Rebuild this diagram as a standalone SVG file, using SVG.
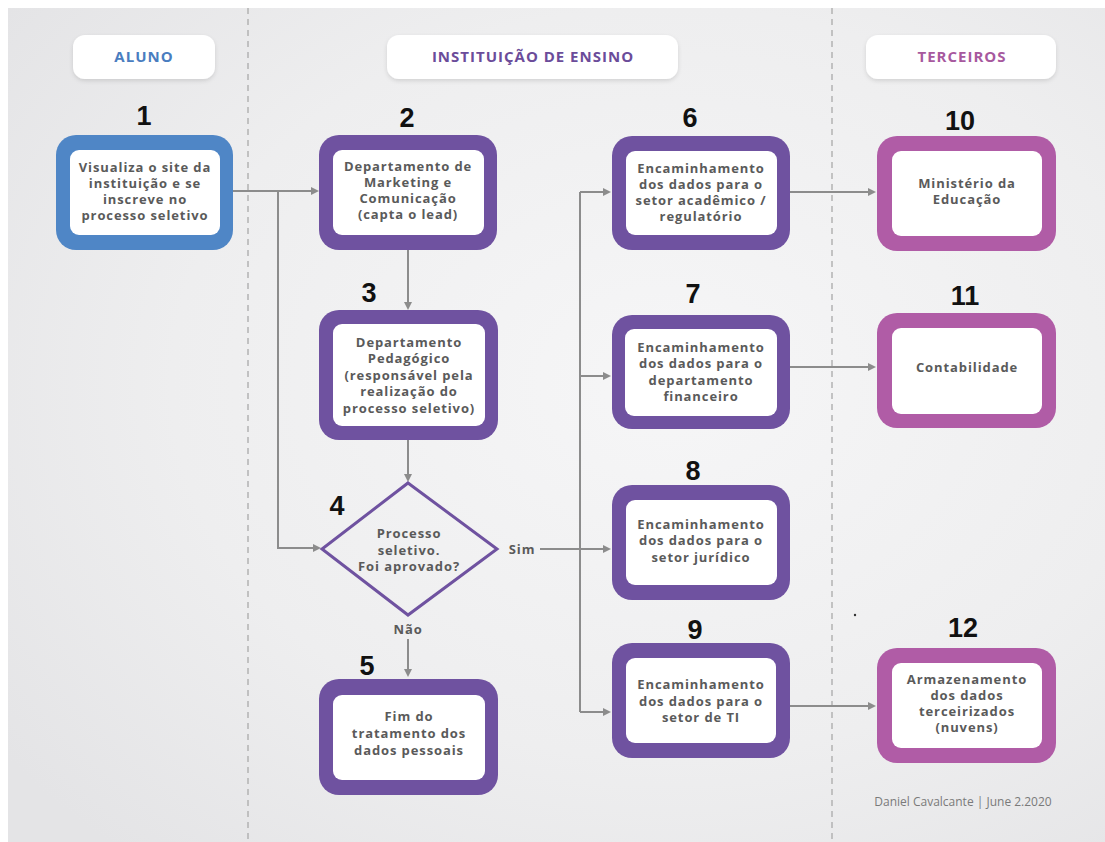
<svg xmlns="http://www.w3.org/2000/svg" width="1105" height="842" viewBox="0 0 1105 842">
<defs>
  <radialGradient id="bg" cx="0.6" cy="0.45" r="0.75">
    <stop offset="0" stop-color="#f6f6f7"/>
    <stop offset="0.6" stop-color="#eeeeef"/>
    <stop offset="1" stop-color="#e4e4e6"/>
  </radialGradient>
  <filter id="sh" x="-10%" y="-20%" width="120%" height="150%">
    <feDropShadow dx="0" dy="2" stdDeviation="2" flood-color="#000" flood-opacity="0.12"/>
  </filter>
  <marker id="ah" viewBox="0 0 8 8" markerWidth="8" markerHeight="8" refX="2" refY="4" orient="auto" markerUnits="userSpaceOnUse">
    <path d="M0,0 L8,4 L0,8 z" fill="#8c8c8c"/>
  </marker>
  <style>
    .pill{fill:#ffffff;filter:url(#sh)}
    .hd{font-family:"Open Sans","Noto Sans",sans-serif;font-weight:700;font-size:15px;letter-spacing:1px;text-anchor:middle}
    .num{font-family:"Liberation Sans",Arial,sans-serif;font-weight:700;font-size:27px;fill:#111;text-anchor:middle}
    .t{font-family:"Open Sans","Noto Sans",sans-serif;font-weight:700;font-size:13px;letter-spacing:0.9px;fill:#5a5a5a;text-anchor:middle}
    .inner{fill:#ffffff}
    .blue{fill:#4f86c6}
    .purple{fill:#6f52a0}
    .pink{fill:#b05ca6}
    .dash{stroke:#b3b3b3;stroke-width:1.5;stroke-dasharray:6 5;fill:none}
    .c{stroke:#8c8c8c;stroke-width:2;fill:none}
    .ca{stroke:#8c8c8c;stroke-width:2;fill:none;marker-end:url(#ah)}
    .foot{font-family:"Open Sans","Noto Sans",sans-serif;font-weight:400;font-size:12px;fill:#7a7a7a;text-anchor:middle}
  </style>
</defs>
<rect x="0" y="0" width="1105" height="842" fill="#ffffff"/>
<rect x="8" y="8" width="1097" height="834" fill="url(#bg)"/>
<line class="dash" x1="248" y1="8" x2="248" y2="842"/>
<line class="dash" x1="832" y1="8" x2="832" y2="842"/>

<g id="headers">
  <g id="h-aluno"><rect class="pill" x="73" y="35" width="142" height="44" rx="12"/><text class="hd" x="144" y="62" fill="#4a7dc0">ALUNO</text></g>
  <g id="h-inst"><rect class="pill" x="387" y="35" width="291" height="44" rx="12"/><text class="hd" x="533" y="62" fill="#6b4c9a">INSTITUIÇÃO DE ENSINO</text></g>
  <g id="h-terc"><rect class="pill" x="866" y="35" width="190" height="44" rx="12"/><text class="hd" x="962" y="62" fill="#a7599e">TERCEIROS</text></g>
</g>

<g id="connectors">
  <path class="ca" d="M233,191 H313"/>
  <path class="ca" d="M278,191 V548 H315"/>
  <path class="ca" d="M408,250 V304"/>
  <path class="ca" d="M408,440 V476"/>
  <path class="ca" d="M408,639 V671"/>
  <path class="ca" d="M540,549 H605"/>
  <path class="c" d="M580,192 V712"/>
  <path class="ca" d="M580,192 H605"/>
  <path class="ca" d="M580,376 H605"/>
  <path class="ca" d="M580,712 H605"/>
  <path class="ca" d="M790,192 H870"/>
  <path class="ca" d="M790,367 H870"/>
  <path class="ca" d="M790,706 H870"/>
  <text class="t" x="522" y="554">Sim</text>
  <text class="t" x="408" y="634">Não</text>
</g>

<g id="n1">
  <text class="num" x="144" y="125">1</text>
  <rect class="blue" x="56" y="135" width="177" height="115" rx="20"/>
  <rect class="inner" x="70" y="150" width="150" height="85" rx="9"/>
  <text class="t" x="145" y="172">Visualiza o site da</text>
  <text class="t" x="145" y="188">instituição e se</text>
  <text class="t" x="145" y="204">inscreve no</text>
  <text class="t" x="145" y="220">processo seletivo</text>
</g>

<g id="n2">
  <text class="num" x="407" y="127">2</text>
  <rect class="purple" x="319" y="135" width="178" height="115" rx="20"/>
  <rect class="inner" x="333" y="150" width="151" height="85" rx="9"/>
  <text class="t" x="408" y="171">Departamento de</text>
  <text class="t" x="408" y="187">Marketing e</text>
  <text class="t" x="408" y="203">Comunicação</text>
  <text class="t" x="408" y="219">(capta o lead)</text>
</g>

<g id="n3">
  <text class="num" x="369" y="302">3</text>
  <rect class="purple" x="319" y="310" width="179" height="130" rx="20"/>
  <rect class="inner" x="333" y="324" width="152" height="102" rx="9"/>
  <text class="t" x="409" y="347">Departamento</text>
  <text class="t" x="409" y="363">Pedagógico</text>
  <text class="t" x="409" y="380">(responsável pela</text>
  <text class="t" x="409" y="396">realização do</text>
  <text class="t" x="409" y="413">processo seletivo)</text>
</g>

<g id="n4">
  <text class="num" x="337" y="515">4</text>
  <polygon points="408,483 497,549 408,615 322,549" fill="none" stroke="#6f52a0" stroke-width="3" stroke-linejoin="miter"/>
  <text class="t" x="409" y="538">Processo</text>
  <text class="t" x="409" y="555">seletivo.</text>
  <text class="t" x="409" y="571">Foi aprovado?</text>
</g>

<g id="n5">
  <text class="num" x="367" y="675">5</text>
  <rect class="purple" x="319" y="679" width="179" height="116" rx="20"/>
  <rect class="inner" x="333" y="695" width="152" height="85" rx="9"/>
  <text class="t" x="409" y="721">Fim do</text>
  <text class="t" x="409" y="738">tratamento dos</text>
  <text class="t" x="409" y="755">dados pessoais</text>
</g>

<g id="n6">
  <text class="num" x="690" y="127">6</text>
  <rect class="purple" x="612" y="136" width="178" height="114" rx="20"/>
  <rect class="inner" x="626" y="151" width="151" height="84" rx="9"/>
  <text class="t" x="701" y="173">Encaminhamento</text>
  <text class="t" x="701" y="189">dos dados para o</text>
  <text class="t" x="701" y="205">setor acadêmico /</text>
  <text class="t" x="701" y="221">regulatório</text>
</g>

<g id="n7">
  <text class="num" x="693" y="303">7</text>
  <rect class="purple" x="612" y="315" width="178" height="114" rx="20"/>
  <rect class="inner" x="625" y="329" width="152" height="87" rx="9"/>
  <text class="t" x="701" y="352">Encaminhamento</text>
  <text class="t" x="701" y="368">dos dados para o</text>
  <text class="t" x="701" y="385">departamento</text>
  <text class="t" x="701" y="401">financeiro</text>
</g>

<g id="n8">
  <text class="num" x="693" y="480">8</text>
  <rect class="purple" x="612" y="485" width="178" height="115" rx="20"/>
  <rect class="inner" x="626" y="500" width="151" height="85" rx="9"/>
  <text class="t" x="701" y="529">Encaminhamento</text>
  <text class="t" x="701" y="545">dos dados para o</text>
  <text class="t" x="701" y="562">setor jurídico</text>
</g>

<g id="n9">
  <text class="num" x="695" y="639">9</text>
  <rect class="purple" x="612" y="643" width="178" height="115" rx="20"/>
  <rect class="inner" x="626" y="658" width="150" height="85" rx="9"/>
  <text class="t" x="701" y="689">Encaminhamento</text>
  <text class="t" x="701" y="706">dos dados para o</text>
  <text class="t" x="701" y="722">setor de TI</text>
</g>

<g id="n10">
  <text class="num" x="960" y="130">10</text>
  <rect class="pink" x="877" y="136" width="179" height="115" rx="20"/>
  <rect class="inner" x="892" y="151" width="150" height="85" rx="9"/>
  <text class="t" x="967" y="188">Ministério da</text>
  <text class="t" x="967" y="204">Educação</text>
</g>

<g id="n11">
  <text class="num" x="965" y="305">11</text>
  <rect class="pink" x="877" y="313" width="179" height="115" rx="20"/>
  <rect class="inner" x="892" y="328" width="150" height="86" rx="9"/>
  <text class="t" x="967" y="372">Contabilidade</text>
</g>

<g id="n12">
  <text class="num" x="963" y="637">12</text>
  <rect class="pink" x="877" y="648" width="179" height="115" rx="20"/>
  <rect class="inner" x="892" y="663" width="150" height="85" rx="9"/>
  <text class="t" x="967" y="684">Armazenamento</text>
  <text class="t" x="967" y="700">dos dados</text>
  <text class="t" x="967" y="716">terceirizados</text>
  <text class="t" x="967" y="732">(nuvens)</text>
</g>

<circle cx="855" cy="615" r="1.2" fill="#333"/>
<text class="foot" x="963" y="806">Daniel Cavalcante | June 2.2020</text>
</svg>
